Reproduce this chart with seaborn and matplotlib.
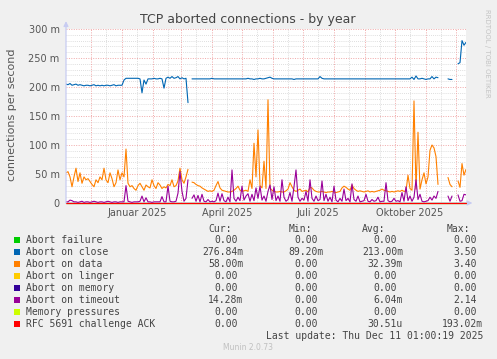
import numpy as np
import pandas as pd
import matplotlib
matplotlib.use("Agg")
import matplotlib.pyplot as plt
import seaborn as sns
from matplotlib.patches import Rectangle

# ---------------- data (values in milli-connections per second) ----------------
start_date = "2024-11-06"
n_samples = 201          # one sample every 2 days up to 2025-12-11
nan = np.nan

abort_on_close = [
    205, 204, 206, 203, 204, 205, 203, 204, 203, 202,
    203, 203, 202, 203, 204, 202, 203, 202, 203, 202,
    203, 203, 202, 203, 204, 202, 203, 203, 203, 212,
    215, 215, 215, 215, 215, 215, 215, 214, 190, 212,
    205, 214, 214, 214, 215, 214, 214, 215, 214, 198,
    215, 217, 215, 218, 215, 216, 218, 214, 216, 214,
    215, 173, nan, 214, 214, 214, 214, 214, 214, 214,
    214, 214, 214, 215, 214, 214, 214, 214, 214, 214,
    214, 214, 214, 214, 214, 214, 214, 214, 214, 214,
    214, 215, 214, 214, 213, 214, 214, 215, 214, 214,
    215, 216, 217, 215, 214, 214, 214, 214, 214, 214,
    214, 214, 214, 214, 213, 214, 214, 214, 214, 214,
    214, 214, 214, 214, 214, 214, 214, 218, 215, 214,
    214, 214, 214, 214, 214, 214, 214, 214, 214, 214,
    214, 214, 214, 214, 214, 214, 214, 214, 214, 214,
    214, 214, 214, 214, 214, 214, 214, 214, 214, 214,
    214, 214, 214, 214, 214, 214, 214, 214, 214, 214,
    214, 214, 214, 217, 213, 219, 214, 214, 215, 214,
    213, 214, 214, 218, 214, 217, 216, nan, nan, nan,
    nan, 214, 213, 213, nan, nan, 240, 242, 280, 272,
    277,
]

abort_on_data = [
    52, 54, 45, 28, 45, 60, 37, 52, 34, 45,
    40, 42, 37, 32, 28, 40, 35, 45, 40, 60,
    40, 35, 52, 42, 28, 35, 57, 40, 52, 45,
    93, 34, 28, 30, 25, 22, 30, 34, 28, 22,
    31, 28, 26, 40, 30, 25, 35, 31, 25, 28,
    26, 32, 30, 40, 28, 30, 38, 60, 40, 34,
    45, 58, nan, 36, 35, 32, 30, 29, 26, 24,
    22, 20, 21, 20, 22, 30, 37, 26, 22, 21,
    20, 19, 19, 20, 22, 25, 29, 22, 20, 21,
    22, 20, 40, 25, 103, 45, 126, 30, 26, 72,
    25, 178, 26, 22, 20, 19, 19, 20, 19, 19,
    21, 24, 35, 28, 22, 20, 22, 24, 20, 21,
    22, 19, 27, 26, 22, 20, 19, 19, 20, 19,
    18, 19, 19, 20, 19, 18, 19, 20, 26, 29,
    27, 24, 22, 31, 25, 22, 20, 21, 20, 19,
    20, 21, 19, 20, 19, 20, 21, 22, 24, 22,
    21, 20, 19, 20, 19, 20, 21, 20, 22, 20,
    21, 48, 25, 22, 176, 24, 122, 24, 40, 52,
    33, 45, 91, 100, 95, 80, 32, nan, nan, nan,
    nan, 44, 32, 28, nan, nan, 38, 27, 68, 48,
    58,
]

abort_on_timeout = [
    2, 2, 5, 4, 2, 2, 1, 2, 3, 1,
    2, 2, 1, 2, 3, 2, 1, 2, 2, 1,
    2, 3, 2, 1, 2, 2, 1, 2, 2, 2,
    30, 3, 2, 1, 2, 2, 2, 3, 12, 2,
    9, 2, 2, 1, 2, 2, 2, 2, 11, 2,
    2, 29, 3, 2, 2, 3, 17, 54, 20, 3,
    8, 40, nan, 8, 14, 3, 13, 2, 15, 3,
    2, 6, 2, 3, 2, 4, 17, 3, 16, 4,
    2, 10, 2, 57, 8, 3, 10, 4, 29, 5,
    12, 16, 3, 15, 4, 26, 8, 29, 5, 12,
    3, 20, 31, 6, 28, 4, 12, 3, 40, 10,
    3, 6, 18, 3, 28, 57, 10, 3, 8, 5,
    20, 3, 40, 8, 3, 12, 4, 6, 38, 4,
    15, 3, 10, 2, 29, 5, 2, 8, 3, 24,
    4, 8, 2, 33, 6, 3, 12, 2, 3, 4,
    15, 3, 2, 6, 3, 4, 10, 2, 3, 3,
    35, 4, 2, 3, 8, 3, 4, 2, 18, 3,
    28, 4, 12, 3, 10, 40, 6, 15, 3, 2,
    3, 4, 10, 5, 12, 8, 20, nan, nan, nan,
    nan, 12, 3, 12, nan, nan, 14, 3, 4, 15,
    14,
]

# series that stay at zero over the whole range (first and last day)
zero_span_dates = ["2024-11-06", "2025-12-11"]
abort_failure = [0, 0]
abort_on_linger = [0, 0]
abort_on_memory = [0, 0]
memory_pressures = [0, 0]
rfc_challenge_ack = [0, 0]

legend_names = ["Abort failure", "Abort on close", "Abort on data", "Abort on linger",
                "Abort on memory", "Abort on timeout", "Memory pressures",
                "RFC 5691 challenge ACK"]
legend_colors = ["#00CC00", "#0066B3", "#FF8000", "#FFCC00",
                 "#330099", "#990099", "#CCFF00", "#FF0000"]
cur_vals = ["0.00", "276.84m", "58.00m", "0.00", "0.00", "14.28m", "0.00", "0.00"]
min_vals = ["0.00", "89.20m", "0.00", "0.00", "0.00", "0.00", "0.00", "0.00"]
avg_vals = ["0.00", "213.00m", "32.39m", "0.00", "0.00", "6.04m", "0.00", "30.51u"]
max_vals = ["0.00", "3.50", "3.40", "0.00", "0.00", "2.14", "0.00", "193.02m"]

y_ticks = [0, 50, 100, 150, 200, 250, 300]
y_tick_labels = ["0", "50 m", "100 m", "150 m", "200 m", "250 m", "300 m"]
x_tick_dates = ["2025-01-16", "2025-04-16", "2025-07-16", "2025-10-16"]
x_tick_labels = ["Januar 2025", "April 2025", "Juli 2025", "Oktober 2025"]

# ---------------- figure ----------------
sns.set_theme(style="white")
plt.rcParams["font.family"] = ["DejaVu Sans"]

W, H = 497, 359
fig = plt.figure(figsize=(W / 100, H / 100), dpi=100, facecolor="#F0F0F0")
ax = fig.add_axes([66 / W, 1 - 203 / H, 400 / W, 174 / H])
ax.set_facecolor("white")

t0 = pd.Timestamp("2024-11-06")
t1 = pd.Timestamp("2025-12-11")
ax.set_xlim(t0, t1)
ax.set_ylim(0, 300)

# grid
for v in range(0, 301, 10):
    if v % 50 == 0:
        ax.axhline(v, color="#F0A8A8", lw=0.7, ls=(0, (1, 1.5)), zorder=0.5)
    else:
        ax.axhline(v, color="#D4D4D4", lw=0.6, ls=(0, (1, 1.5)), zorder=0.4)
for d in pd.date_range("2024-11-16", "2025-12-11", freq="MS") + pd.Timedelta(days=15):
    if t0 < d < t1:
        ax.axvline(d, color="#D4D4D4", lw=0.6, ls=(0, (1, 1.5)), zorder=0.4)
for d in pd.date_range("2024-12-01", "2025-12-11", freq="MS"):
    ax.axvline(d, color="#F0A8A8", lw=0.7, ls=(0, (1, 1.5)), zorder=0.5)

dates = pd.date_range(start_date, periods=n_samples, freq="2D")
df = pd.DataFrame({"date": dates, "close": abort_on_close,
                   "data": abort_on_data, "timeout": abort_on_timeout})

zdates = pd.to_datetime(zero_span_dates)


def draw(col, color):
    sub = df[["date", col]].copy()
    sub["seg"] = sub[col].isna().cumsum()
    sub = sub.dropna()
    sns.lineplot(data=sub, x="date", y=col, units="seg", estimator=None,
                 color=color, lw=0.8, ax=ax, legend=False, zorder=3)


def draw_zero(vals, color):
    z = pd.DataFrame({"date": zdates, "v": vals})
    sns.lineplot(data=z, x="date", y="v", color=color, lw=0.8, ax=ax,
                 legend=False, zorder=3, clip_on=False)


draw_zero(abort_failure, "#00CC00")
draw("close", "#0066B3")
draw("data", "#FF8000")
draw_zero(abort_on_linger, "#FFCC00")
draw_zero(abort_on_memory, "#330099")
draw("timeout", "#990099")
draw_zero(memory_pressures, "#CCFF00")
draw_zero(rfc_challenge_ack, "#FF0000")

# axes styling
for s in ["top", "right", "bottom", "left"]:
    ax.spines[s].set_visible(False)
ax.set_xlabel("")
ax.set_ylabel("")
ax.set_yticks(y_ticks)
ax.set_yticklabels(y_tick_labels)
ax.set_xticks(pd.to_datetime(x_tick_dates))
ax.set_xticklabels(x_tick_labels)
ax.tick_params(axis="both", length=0, labelsize=7, colors="#555555")
ax.tick_params(axis="y", pad=4.5)
ax.tick_params(axis="x", pad=3.5)

axis_col = "#C8CCF2"
ax.annotate("", xy=(0, 1.045), xytext=(0, 0), xycoords="axes fraction",
            arrowprops=dict(arrowstyle="-|>", color=axis_col, lw=0.9,
                            mutation_scale=7, shrinkA=0, shrinkB=0))
ax.annotate("", xy=(1.016, 0), xytext=(0, 0), xycoords="axes fraction",
            arrowprops=dict(arrowstyle="-|>", color=axis_col, lw=0.9,
                            mutation_scale=7, shrinkA=0, shrinkB=0), zorder=1)


def fx(x):
    return x / W


def fy(y):
    return 1 - y / H


fig.text(fx(248), fy(19), "TCP aborted connections - by year", ha="center",
         va="center", fontsize=9, color="#444444")
fig.text(fx(12), fy(115), "connections per second", rotation=90, ha="center",
         va="center", fontsize=8, color="#555555")
fig.text(fx(487), fy(53), "RRDTOOL / TOBI OETIKER", rotation=270, ha="center",
         va="center", fontsize=5, color="#C4C4C4")

mono = "DejaVu Sans Mono"
fs = 7
txtcol = "#444444"
cw = 5.9
col_right = [243.3, 323.3, 402.7, 482.7]
headers = ["Cur:", "Min:", "Avg:", "Max:"]
header_left = [208.3, 288.3, 361.7, 446.7]
for h, xl in zip(headers, header_left):
    fig.text(fx(xl), fy(228.5 + 3.5), h, ha="left", va="baseline",
             fontsize=fs, family=mono, color=txtcol)

for i, name in enumerate(legend_names):
    yc = 239.7 + 12 * i
    fig.patches.append(Rectangle((fx(14), fy(yc + 2.8)), 5.5 / W, 5.5 / H,
                                 transform=fig.transFigure, facecolor=legend_colors[i],
                                 edgecolor="none"))
    fig.text(fx(25.7), fy(yc + 3.5), name, ha="left", va="baseline",
             fontsize=fs, family=mono, color=txtcol)
    for vals, xr in zip([cur_vals, min_vals, avg_vals, max_vals], col_right):
        s = vals[i]
        xr2 = xr if s[-1].isalpha() else xr - cw
        fig.text(fx(xr2 + 0.3), fy(yc + 3.5), s, ha="right", va="baseline",
                 fontsize=fs, family=mono, color=txtcol)

fig.text(fx(483), fy(335.3 + 3.5), "Last update: Thu Dec 11 01:00:19 2025",
         ha="right", va="baseline", fontsize=fs, family=mono, color=txtcol)
fig.text(fx(248), fy(348), "Munin 2.0.73", ha="center", va="center",
         fontsize=5.5, color="#C0C0C0")

fig.savefig("out.png", dpi=100, facecolor=fig.get_facecolor())
